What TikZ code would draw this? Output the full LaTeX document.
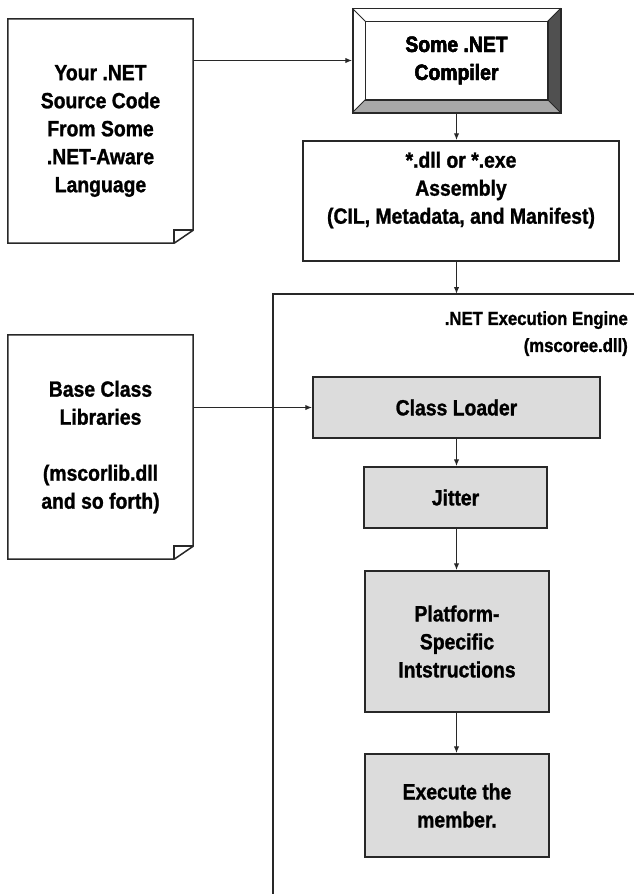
\documentclass[tikz,border=0pt]{standalone}
\usepackage{fontspec}
\newfontfamily\narrowfont{Liberation Sans}[FakeStretch=0.88, BoldFeatures={FakeBold=1.2}]
\usepackage{tikz}
\usetikzlibrary{calc,arrows.meta}

\definecolor{boxgray}{RGB}{220,220,220}
\definecolor{linegray}{RGB}{40,40,40}
\definecolor{bevdark}{RGB}{80,80,80}
\definecolor{bevmid}{RGB}{168,168,168}

\tikzset{
  txt/.style = {font=\narrowfont\bfseries\fontsize{22}{28}\selectfont, align=center, inner sep=0pt},
  docnode/.style = {txt, minimum width=185pt, minimum height=224pt},
  plainbox/.style = {txt, draw=linegray, line width=1.5pt},
  graybox/.style = {plainbox, fill=boxgray},
  docline/.style = {draw=linegray, line width=1.5pt, line join=miter},
  arr/.style = {draw=linegray, line width=1.4pt, -{Latex[length=7pt,width=5.5pt]}},
}

\begin{document}
\begin{tikzpicture}[x=1pt,y=-1pt]
          \useasboundingbox (0,0) rectangle (634,894);

          % source documents
          \node[docnode] (src) at (100.5,131) {Your .NET\\Source Code\\From Some\\.NET-Aware\\Language};
          \node[docnode] (lib) at (100.5,447) {Base Class\\Libraries\\[28pt](mscorlib.dll\\and so forth)};
          \foreach \d in {src,lib}{
            \draw[docline] (\d.north west) -- (\d.north east) -- ($(\d.south east)+(0,-13)$)
              -- ($(\d.south east)+(-19,0)$) -- (\d.south west) -- cycle;
            \draw[docline] ($(\d.south east)+(-19,0)$) -- ($(\d.south east)+(-19,-13)$) -- ($(\d.south east)+(0,-13)$);
          }

          % compiler with bevel
          \node[plainbox, minimum width=207pt, minimum height=103pt] (comp) at (456.5,60.5) {Some .NET\\Compiler};
          \coordinate (cinNW) at ($(comp.north west)+(13,13)$);
          \coordinate (cinSE) at ($(comp.south east)+(-13,-13)$);
          \fill[white] (comp.north west) -- (comp.north east) -- (cinSE |- cinNW) -- (cinNW) -- cycle;
          \fill[bevdark] (comp.north east) -- (comp.south east) -- (cinSE) -- (cinSE |- cinNW) -- cycle;
          \fill[bevmid] (comp.south west) -- (comp.south east) -- (cinSE) -- (cinNW |- cinSE) -- cycle;
          \draw[docline] (comp.north west) rectangle (comp.south east);
          \draw[docline] (cinNW) rectangle (cinSE);
          \draw[linegray, line width=0.9pt] (comp.north west) -- (cinNW) (comp.south west) -- (cinNW |- cinSE)
            (comp.north east) -- (cinSE |- cinNW) (comp.south east) -- (cinSE);
          \node[txt] (comptext) at (comp.center) {Some .NET\\Compiler};

          % assembly
          \node[plainbox, minimum width=316pt, minimum height=120pt] (asm) at (461,201) {};
          \node[txt] (asmtext) at (461,190) {*.dll or *.exe\\Assembly\\(CIL, Metadata, and Manifest)};

          % execution engine
          \coordinate (engTL) at (273,294);
          \coordinate (engTR) at (634,294);
          \coordinate (engBL) at (273,894);
          \draw[docline] (engBL) -- (engTL) -- (engTR);
          \node[txt, align=right, anchor=north east, font=\narrowfont\bfseries\fontsize{19}{27}\selectfont] (englabel)
            at (628,311) {.NET Execution Engine\\(mscoree.dll)};

          \node[graybox, minimum width=287pt, minimum height=61pt] (loader) at (456.5,407.5) {Class Loader};
          \node[graybox, minimum width=183pt, minimum height=61pt] (jit) at (455.5,497.5) {Jitter};
          \node[graybox, minimum width=184pt, minimum height=141pt] (plat) at (457,641.5) {Platform-\\Specific\\Intstructions};
          \node[graybox, minimum width=184pt, minimum height=103pt] (exec) at (457,805.5) {Execute the\\member.};

          % connectors
          \draw[arr] (src.east |- comp.west) -- (comp.west);
          \draw[arr] (comp.south) -- (comp.south |- asm.north);
          \draw[arr] (asm.south -| comp.south) -- (comp.south |- engTL);
          \draw[arr] (lib.east |- loader.west) -- (loader.west);
          \draw[arr] (loader.south -| comp.south) -- (comp.south |- jit.north);
          \draw[arr] (jit.south -| comp.south) -- (comp.south |- plat.north);
          \draw[arr] (plat.south -| comp.south) -- (comp.south |- exec.north);
\end{tikzpicture}
\end{document}
